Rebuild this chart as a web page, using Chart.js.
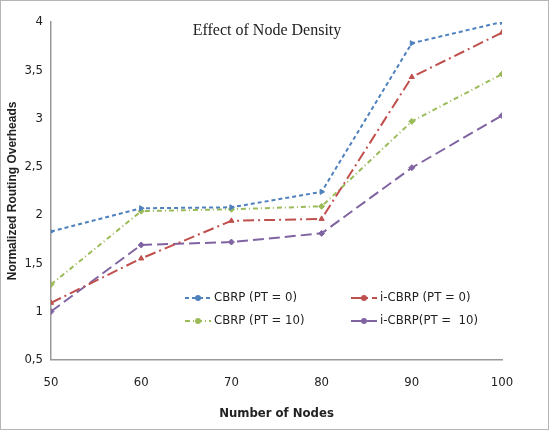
<!DOCTYPE html>
<html>
<head>
<meta charset="utf-8">
<script src="https://cdn.jsdelivr.net/npm/chart.js@4.4.0/dist/chart.umd.min.js"></script>
<style>
  html, body { margin: 0; padding: 0; background: #fff; }
  #wrap { width: 547px; height: 428px; border: 1px solid #b5b5b5; position: relative; }
</style>
</head>
<body>
<div id="wrap"><canvas id="chart"></canvas></div>
<script>
const nodes = [50, 60, 70, 80, 90, 100];
const cbrpPt0 = [1.83, 2.07, 2.08, 2.24, 3.78, 4.0];
const icbrpPt0 = [1.09, 1.55, 1.94, 1.96, 3.43, 3.89];
const cbrpPt10 = [1.28, 2.04, 2.06, 2.09, 2.97, 3.46];
const icbrpPt10 = [1.0, 1.69, 1.72, 1.81, 2.49, 3.03];

const narrow = '"DejaVu Sans Condensed", "Liberation Sans Narrow", sans-serif';

function pts(ys) {
    return nodes.map((x, i) => ({ x: x, y: ys[i] }));
}

// title and legend drawn inside the plot area
const insidePlugin = {
    id: 'inside',
    afterDraw(chart) {
        const ctx = chart.ctx;
        const a = chart.chartArea;
        ctx.save();
        ctx.fillStyle = '#222';
        ctx.font = '16px "Liberation Serif", "DejaVu Serif", serif';
        ctx.textAlign = 'center';
        ctx.textBaseline = 'middle';
        ctx.fillText('Effect of Node Density', a.left + 216, a.top + 9);

        const cols = [a.left + 134, a.left + 300];
        const rows = [a.top + 276, a.top + 299];
        ctx.font = '13px ' + narrow;
        ctx.textAlign = 'left';
        chart.data.datasets.forEach((ds, i) => {
            const x = cols[i % 2];
            const y = rows[Math.floor(i / 2)];
            ctx.strokeStyle = ds.borderColor;
            ctx.lineWidth = 2;
            ctx.setLineDash(ds.borderDash);
            ctx.beginPath();
            ctx.moveTo(x, y);
            ctx.lineTo(x + 26, y);
            ctx.stroke();
            ctx.setLineDash([]);
            ctx.fillStyle = ds.borderColor;
            ctx.beginPath();
            ctx.arc(x + 13, y, 3, 0, Math.PI * 2);
            ctx.fill();
            ctx.fillStyle = '#222';
            ctx.fillText(ds.label, x + 29, y);
        });
        ctx.restore();
    }
};

new Chart(document.getElementById('chart'), {
    type: 'line',
    data: {
        datasets: [
            { label: 'CBRP (PT = 0)', data: pts(cbrpPt0), borderColor: '#4F81BD', backgroundColor: '#4F81BD', borderDash: [4, 3], pointStyle: 'triangle', rotation: 90 },
            { label: 'i-CBRP (PT = 0)', data: pts(icbrpPt0), borderColor: '#C0504D', backgroundColor: '#C0504D', borderDash: [11, 4, 2, 4], pointStyle: 'triangle', rotation: 0 },
            { label: 'CBRP (PT = 10)', data: pts(cbrpPt10), borderColor: '#9BBB59', backgroundColor: '#9BBB59', borderDash: [5, 3, 1, 3], pointStyle: 'rectRot', rotation: 0 },
            { label: 'i-CBRP(PT =  10)', data: pts(icbrpPt10), borderColor: '#8064A2', backgroundColor: '#8064A2', borderDash: [11, 5], pointStyle: 'rectRot', rotation: 0 }
        ]
    },
    options: {
        responsive: true,
        maintainAspectRatio: false,
        animation: false,
        layout: { padding: { top: 21, right: 46, left: 0, bottom: 4 } },
        elements: {
            line: { borderWidth: 2, tension: 0, fill: false },
            point: { radius: 3, borderWidth: 1 }
        },
        plugins: {
            legend: { display: false },
            title: { display: false },
            tooltip: { enabled: false }
        },
        scales: {
            x: {
                type: 'linear',
                min: 50,
                max: 100,
                ticks: { stepSize: 10, color: '#222', font: { family: narrow, size: 13 }, padding: 9 },
                grid: { display: false, drawTicks: true, tickLength: 6, color: '#999' },
                border: { color: '#999', width: 1.5 },
                title: { display: true, text: 'Number of Nodes', color: '#222', font: { family: narrow, size: 13, weight: 'bold' }, padding: { top: 6 } }
            },
            y: {
                min: 0.5,
                max: 4,
                ticks: {
                    stepSize: 0.5,
                    color: '#222',
                    font: { family: narrow, size: 13 },
                    padding: 3,
                    callback: v => String(v).replace('.', ',')
                },
                grid: { display: false, drawTicks: true, tickLength: 5, color: '#999' },
                border: { color: '#999', width: 1.5 },
                title: { display: true, text: 'Normalized Routing Overheads', color: '#222', font: { family: '"Liberation Sans", sans-serif', size: 12, weight: 'bold' }, padding: { bottom: 2 } }
            }
        }
    },
    plugins: [insidePlugin]
});
</script>
</body>
</html>
